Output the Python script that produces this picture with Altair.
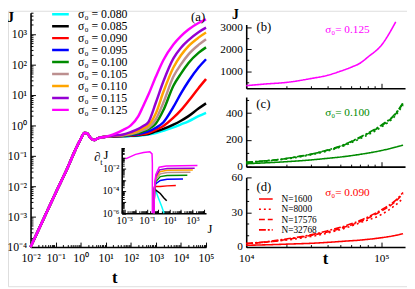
import altair as alt
import pandas as pd

W, H = 407, 281
FONT = "Liberation Serif"

# ---------------- data : panel (a) ----------------
sigma_vals = ["0.080", "0.085", "0.090", "0.095", "0.100", "0.105", "0.110", "0.115", "0.125"]
sigma_colors = ["#00ffff", "#000000", "#ff0000", "#0000ff", "#008b00",
                "#bc8f8f", "#ffa500", "#9400d3", "#ff00ff"]

t_early = [0.01, 0.03, 0.1, 0.3, 0.6, 1.0, 1.4, 1.8, 2.5, 3.5, 5.0, 10.0]
J_early = [1e-4, 7e-4, 6e-3, 0.04, 0.15, 0.35, 0.56, 0.55, 0.38, 0.33, 0.38, 0.42]
t_tail = [20, 50, 100, 200, 300, 500, 1000, 2000, 5000, 10000, 20000, 50000, 100000]
J_080 = [0.43, 0.43, 0.44, 0.45, 0.47, 0.50, 0.56, 0.66, 0.85, 1.07, 1.35, 2.0, 2.57]
J_085 = [0.43, 0.44, 0.45, 0.47, 0.49, 0.52, 0.63, 0.76, 1.05, 1.41, 2.0, 3.55, 5.25]
J_090 = [0.43, 0.44, 0.46, 0.49, 0.51, 0.56, 0.71, 0.95, 1.78, 3.16, 6.3, 16.6, 33]
J_095 = [0.44, 0.45, 0.48, 0.52, 0.56, 0.63, 0.83, 1.26, 4.0, 11.2, 28, 79, 148]
J_100 = [0.44, 0.46, 0.50, 0.56, 0.63, 0.74, 1.15, 3.16, 20, 50, 112, 240, 363]
J_105 = [0.45, 0.47, 0.52, 0.60, 0.69, 0.83, 1.58, 5.6, 40, 100, 214, 437, 676]
J_110 = [0.45, 0.48, 0.55, 0.66, 0.79, 1.0, 2.5, 12.6, 79, 200, 400, 760, 1120]
J_115 = [0.46, 0.50, 0.60, 0.76, 0.93, 1.26, 5.6, 28, 158, 355, 630, 1150, 1620]
J_125 = [0.50, 0.71, 1.0, 2.0, 4.0, 10, 40, 140, 450, 850, 1400, 2300, 3000]
tails = [J_080, J_085, J_090, J_095, J_100, J_105, J_110, J_115, J_125]

# ---------------- data : inset dJ/dt vs J ----------------
pre_J = [1.3e-3, 0.01, 0.05, 0.18, 0.28, 0.30, 0.30]
pre_dJ = [0.078, 0.2, 0.3, 0.35, 0.22, 0.03, 1e-6]
br_J_080 = [0.42, 0.46, 0.6, 1.0, 2.0, 3.2]
br_d_080 = [1e-6, 1.7e-4, 1e-4, 2.5e-5, 4e-6, 1e-6]
br_J_085 = [0.42, 0.46, 0.6, 1.5, 3.0, 5.5]
br_d_085 = [1e-6, 1.7e-4, 1.2e-4, 6e-5, 2.5e-5, 1.3e-5]
br_J_090 = [0.42, 0.46, 0.6, 1.5, 6, 35]
br_d_090 = [1e-6, 1.7e-4, 2.6e-4, 2.6e-4, 2.9e-4, 3.2e-4]
br_J_095 = [0.42, 0.46, 0.6, 1.5, 6, 150]
br_d_095 = [1e-6, 1.7e-4, 4.5e-4, 9e-4, 1.15e-3, 1.2e-3]
br_J_100 = [0.42, 0.46, 0.6, 1.5, 6, 360]
br_d_100 = [1e-6, 1.7e-4, 7e-4, 2e-3, 2.5e-3, 2.6e-3]
br_J_105 = [0.42, 0.46, 0.6, 1.5, 6, 680]
br_d_105 = [1e-6, 1.7e-4, 1.1e-3, 3.5e-3, 4.7e-3, 5e-3]
br_J_110 = [0.42, 0.46, 0.6, 1.4, 6, 1100]
br_d_110 = [1e-6, 1.7e-4, 1.5e-3, 5.5e-3, 7.5e-3, 8e-3]
br_J_115 = [0.42, 0.46, 0.6, 1.3, 6, 1600]
br_d_115 = [1e-6, 1.7e-4, 2e-3, 8e-3, 1.05e-2, 1.1e-2]
br_J_125 = [0.42, 0.46, 0.6, 1.2, 5, 2800]
br_d_125 = [1e-6, 1.7e-4, 3e-3, 1.4e-2, 1.8e-2, 2e-2]
br_J = [br_J_080, br_J_085, br_J_090, br_J_095, br_J_100, br_J_105, br_J_110, br_J_115, br_J_125]
br_d = [br_d_080, br_d_085, br_d_090, br_d_095, br_d_100, br_d_105, br_d_110, br_d_115, br_d_125]

# ---------------- data : panels (b)-(d) ----------------
N_labels = ["N=1600", "N=8000", "N=17576", "N=32768"]
N_dashes = [[1, 0], [2, 3], [6, 3], [7, 2, 2, 2]]
t_b = [1e4, 1.37e4, 2e4, 3e4, 4e4, 5e4, 6e4, 7e4, 8e4, 1e5, 1.28e5]
J_b = [340, 413, 490, 660, 810, 1000, 1180, 1370, 1650, 2170, 3240]
t_cd = [1e4, 1.5e4, 2e4, 3e4, 4e4, 5e4, 7e4, 1e5, 1.27e5, 1.45e5]
J_c_1600 = [22, 30, 37, 50, 62, 72, 92, 120, 145, 160]
J_c_8000 = [30, 44, 58, 88, 117, 146, 210, 295, 380, 460]
J_c_17576 = [32, 46, 61, 92, 122, 152, 218, 305, 390, 472]
J_c_32768 = [33, 47, 62, 93, 124, 155, 222, 310, 395, 478]
J_d_1600 = [1.5, 2.0, 2.5, 3.2, 4.0, 4.8, 6.0, 8.0, 10.0, 11.5]
J_d_8000 = [3.0, 4.5, 6.0, 9.0, 12, 15, 21, 28, 36, 42]
J_d_17576 = [3.0, 4.5, 6.5, 10, 13, 16, 22, 31, 39, 46]
J_d_32768 = [3.0, 5.0, 7.0, 10.5, 14, 17, 23, 32, 40, 47]

# ---------------- helpers ----------------
def vx(px):
    return px - 8


def vy(py):
    return py - 8


SUP = ("'10' + replace(replace(replace(replace(replace(replace(replace(replace("
       "toString(round(log(datum.value)/LN10)),'-','\u207b'),'0','\u2070'),'1','\u00b9'),"
       "'2','\u00b2'),'3','\u00b3'),'4','\u2074'),'5','\u2075'),'6','\u2076')")
LOGMAJ = "abs(log(datum.value)/LN10 - round(log(datum.value)/LN10)) < 0.001"


def log_ticks(lo, hi, vmin, vmax):
    out = []
    for e in range(lo, hi + 1):
        for m in range(1, 10):
            v = m * 10.0 ** e
            if vmin * 0.999 <= v <= vmax * 1.001:
                out.append(v)
    return out


def lab_axis(orient, offset, values, expr=None, fs=12, labels=True, pad=4, fmt=None):
    kw = dict(orient=orient, offset=offset, values=values, ticks=False, domain=True,
              domainColor="black", domainWidth=1.6, grid=False, title=None,
              labels=labels, labelFont=FONT, labelFontSize=fs, labelColor="black",
              labelPadding=pad, labelFlush=False, labelOverlap=False)
    if expr:
        kw["labelExpr"] = expr
    if fmt:
        kw["format"] = fmt
    return alt.Axis(**kw)


def tick_axis(orient, offset, values, test, big=5, small=2.5):
    return alt.Axis(orient=orient, offset=offset, values=values, labels=False,
                    domain=False, grid=False, title=None, ticks=True,
                    tickColor="black", tickWidth=1,
                    tickSize={"condition": {"test": test, "value": big}, "value": small})


def ticks_layer(xs, ys, xdom0, ydom0, xvals, yvals, xtest, ytest, yb, xl, big=5, small=2.5):
    df = pd.DataFrame({"x": [xdom0], "y": [ydom0]})
    return alt.Chart(df).mark_point(opacity=0).encode(
        x=alt.X("x:Q", scale=xs, axis=tick_axis("top", -vy(yb), xvals, xtest, big, small)),
        y=alt.Y("y:Q", scale=ys, axis=tick_axis("right", vx(xl) - W, yvals, ytest, big, small)),
    )


def txt(s, x, y, size=12, color="black", weight="normal", align="center", style="normal"):
    return alt.Chart(pd.DataFrame({"v": [0]})).mark_text(
        text=s, font=FONT, fontSize=size, color=color, fontWeight=weight,
        align=align, baseline="middle", fontStyle=style
    ).encode(x=alt.value(vx(x)), y=alt.value(vy(y)))


# ---------------- panel (a) ----------------
A_L, A_R, A_T, A_B = 31, 210, 10, 249
sig_labels = ["\u03c3\u2080 = " + s for s in sigma_vals]
rows = []
for lab, tail in zip(sig_labels, tails):
    for t, j in zip(t_early + t_tail, J_early + tail):
        rows.append({"t": t, "J": j, "s": lab})
df_a = pd.DataFrame(rows)
xs_a = alt.Scale(type="log", domain=[0.01, 1e5], range=[vx(A_L), vx(A_R)], nice=False)
ys_a = alt.Scale(type="log", domain=[1e-4, 5000], range=[vy(A_B), vy(A_T)], nice=False)
lines_a = alt.Chart(df_a).mark_line(strokeWidth=2.5, interpolate="monotone").encode(
    x=alt.X("t:Q", scale=xs_a, axis=lab_axis("bottom", vy(A_B) - H, [10.0 ** e for e in range(-2, 6)], SUP, 12, pad=6)),
    y=alt.Y("J:Q", scale=ys_a, axis=lab_axis("left", -vx(A_L), [10.0 ** e for e in range(-4, 4)], SUP, 12)),
    color=alt.Color("s:N", scale=alt.Scale(domain=sig_labels, range=sigma_colors),
                    legend=alt.Legend(orient="none", legendX=vx(51.5), legendY=vy(5.5), title=None,
                                      symbolType="stroke", symbolSize=289, symbolStrokeWidth=2.5,
                                      labelFont=FONT, labelFontSize=12, labelColor="black",
                                      clipHeight=12, rowPadding=0.2, labelOffset=8, padding=0,
                                      labelLimit=0)),
)
panel_a = alt.layer(
    lines_a,
    ticks_layer(xs_a, ys_a, 0.01, 1e-4, log_ticks(-2, 5, 0.01, 1e5), log_ticks(-4, 3, 1e-4, 5000),
                LOGMAJ, LOGMAJ, A_B, A_L),
)

# ---------------- inset ----------------
I_L, I_R, I_T, I_B = 124, 210, 147.5, 214.5
rows = []
k = 0
for lab, jj, dd in zip(sig_labels, br_J, br_d):
    for j, d in zip(jj, dd):
        rows.append({"J": j, "dJ": d, "s": lab, "seg": lab + "b", "i": k})
        k += 1
for j, d in zip(pre_J, pre_dJ):
    rows.append({"J": j, "dJ": d, "s": sig_labels[-1], "seg": "pre", "i": k})
    k += 1
df_i = pd.DataFrame(rows)
xs_i = alt.Scale(type="log", domain=[6e-4, 1.6e4], range=[vx(I_L), vx(I_R)], nice=False)
ys_i = alt.Scale(type="log", domain=[1e-6, 0.83], range=[vy(I_B), vy(I_T)], nice=False)
lines_i = alt.Chart(df_i).mark_line(strokeWidth=1.5).encode(
    x=alt.X("J:Q", scale=xs_i, axis=lab_axis("bottom", vy(I_B) - H, [1e-3, 1e-1, 1e1, 1e3], SUP, 10.5, pad=3)),
    y=alt.Y("dJ:Q", scale=ys_i, axis=lab_axis("left", -vx(I_L), [1e-6, 1e-4, 1e-2], SUP, 10.5, pad=3)),
    color=alt.Color("s:N", scale=alt.Scale(domain=sig_labels, range=sigma_colors), legend=None),
    detail="seg:N",
    order="i:Q",
)
panel_i = alt.layer(
    lines_i,
    ticks_layer(xs_i, ys_i, 6e-4, 1e-6, log_ticks(-4, 4, 6e-4, 1.6e4), log_ticks(-6, 0, 1e-6, 0.83),
                LOGMAJ, LOGMAJ, I_B, I_L, big=4, small=2.5),
)

# ---------------- right panels ----------------
R_L, R_R = 251, 413
xs_r = dict(type="log", domain=[1e4, 1.5e5], range=[vx(R_L), vx(R_R)], nice=False)
x_r_ticks = log_ticks(4, 5, 1e4, 1.5e5)


def right_panel(df, yfield, ydom, yb, yt, ymaj, ymin_step, ymaj_step, color, dash_legend, xlabels):
    xs = alt.Scale(**xs_r)
    ys = alt.Scale(type="linear", domain=ydom, range=[vy(yb), vy(yt)], nice=False, zero=False)
    enc = dict(
        x=alt.X("t:Q", scale=xs, axis=lab_axis("bottom", vy(yb) - H, [1e4, 1e5], SUP if xlabels else None, 11.5,
                                               labels=xlabels, pad=6)),
        y=alt.Y(yfield + ":Q", scale=ys, axis=lab_axis("left", -vx(R_L), ymaj, None, 11.5, pad=4, fmt="d")),
        strokeDash=alt.StrokeDash("N:N", scale=alt.Scale(domain=N_labels, range=N_dashes), legend=dash_legend),
    )
    ln = alt.Chart(df).mark_line(strokeWidth=1.6, color=color, interpolate="monotone").encode(**enc)
    first = ydom[0] - (ydom[0] % ymin_step) + (ymin_step if ydom[0] % ymin_step else 0)
    yvals = []
    v = first
    while v <= ydom[1] + 1e-9:
        yvals.append(v)
        v += ymin_step
    ytest = "abs(datum.value %% %g) < 0.001" % ymaj_step
    return alt.layer(ln, ticks_layer(xs, ys, 1e4, ydom[0], x_r_ticks, yvals, LOGMAJ, ytest, yb, R_L))


df_b = pd.DataFrame({"t": t_b, "J": J_b, "N": ["N=1600"] * len(t_b)})
rows = []
for lab, arr in zip(N_labels, [J_c_1600, J_c_8000, J_c_17576, J_c_32768]):
    for t, j in zip(t_cd, arr):
        rows.append({"t": t, "J": j, "N": lab})
df_c = pd.DataFrame(rows)
rows = []
for lab, arr in zip(N_labels, [J_d_1600, J_d_8000, J_d_17576, J_d_32768]):
    for t, j in zip(t_cd, arr):
        rows.append({"t": t, "J": j, "N": lab})
df_d = pd.DataFrame(rows)

leg_d = alt.Legend(orient="none", legendX=vx(263), legendY=vy(195), title=None, symbolType="stroke",
                   symbolSize=196, symbolStrokeWidth=1.6, symbolStrokeColor="#ff0000",
                   labelFont=FONT, labelFontSize=9.5, labelColor="black", clipHeight=10,
                   rowPadding=0.5, labelOffset=8, padding=0, labelLimit=0)
panel_b = right_panel(df_b, "J", [224, 3120], 87, 22, [1000, 2000, 3000], 500, 1000, "#ff00ff", None, False)
panel_c = right_panel(df_c, "J", [0, 520], 167, 96, [0, 200, 400], 100, 200, "#008b00", None, False)
panel_d = right_panel(df_d, "J", [0, 60], 249, 178, [0, 30, 60], 10, 30, "#ff0000", leg_d, True)

# ---------------- annotations ----------------
texts = [
    txt("J", 10.5, 14, 15, weight="bold"),
    txt("(a)", 202, 14, 13),
    txt("t", 117, 281, 17, weight="bold"),
    txt("J", 240, 12.5, 14, weight="bold"),
    txt("(b)", 269, 25, 13),
    txt("\u03c3\u2080= 0.125", 331.5, 28, 11.5, color="#ff00ff", align="left"),
    txt("(c)", 268.5, 103, 13),
    txt("\u03c3\u2080= 0.100", 331.5, 112.5, 11.5, color="#008b00", align="left"),
    txt("(d)", 269, 188, 13),
    txt("\u03c3\u2080= 0.090", 331.5, 194, 11.5, color="#ff0000", align="left"),
    txt("t", 332, 261, 17, weight="bold"),
    txt("\u2202", 99, 157, 13),
    txt("t", 103.2, 162, 8.5),
    txt("J", 108, 155.5, 13),
    txt("J", 214, 231, 13),
]

chart = alt.layer(panel_a, panel_i, panel_b, panel_c, panel_d, *texts).resolve_scale(
    x="independent", y="independent", color="independent", strokeDash="independent"
).properties(
    width=W, height=H, autosize=alt.AutoSizeParams(type="none"), padding=0
).configure_view(stroke=None).configure(background="white")

chart.save("out.html", embed_options={"renderer": "svg", "actions": False})
